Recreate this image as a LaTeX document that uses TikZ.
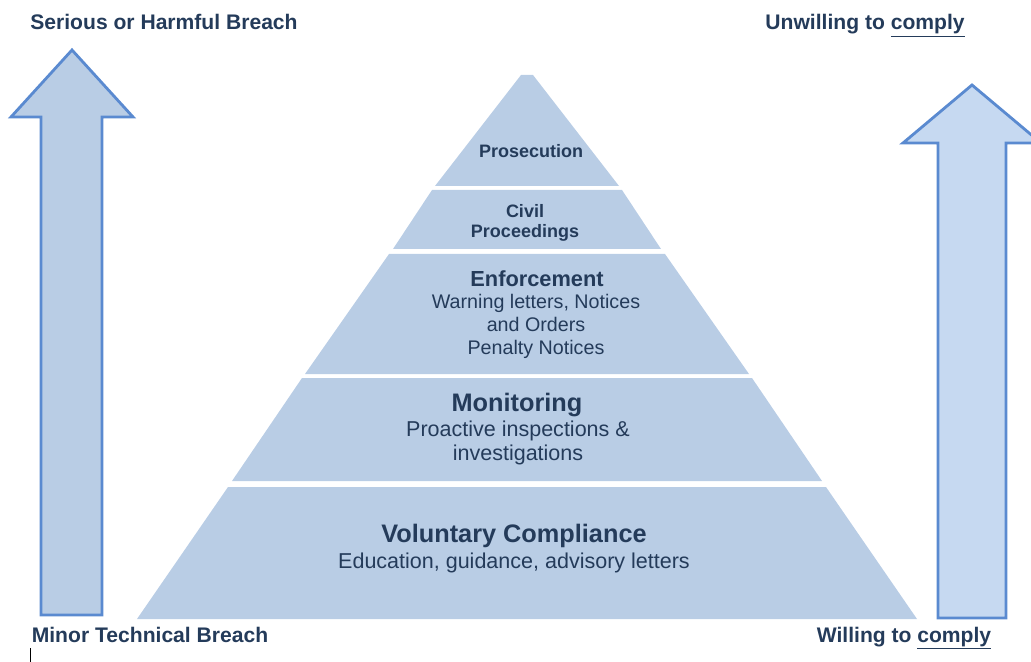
\documentclass[tikz,border=0pt]{standalone}
\usepackage{fontspec}
\setmainfont{Liberation Sans}
\usetikzlibrary{arrows.meta}

\definecolor{tinta}{HTML}{243B5A}
\definecolor{capa}{HTML}{B9CDE5}
\definecolor{borde}{HTML}{5A8AD0}
\definecolor{relleno}{HTML}{B9CDE5}
\definecolor{rellenoclaro}{HTML}{C6D9F1}

\begin{document}
\begin{tikzpicture}[x=0.025cm, y=-0.025cm, >=Stealth,
    every node/.style={text=tinta, inner sep=0pt, align=center},
    extremo/.style={font=\fontsize{15}{18}\selectfont\bfseries, anchor=base},
    titulo/.style={font=\fontsize{18}{22}\selectfont\bfseries},
    cuerpo/.style={font=\fontsize{15.3}{17}\selectfont},
    flecha/.style={draw=borde, line width=2pt}]
        % Marco del dibujo
        \useasboundingbox (0,0) rectangle (1031,662);

        % Flechas laterales
        \filldraw[flecha, fill=relleno] (72,50) -- (133,117) -- (102,117) -- (102,615)
            -- (41,615) -- (41,117) -- (11,117) -- cycle;
        \filldraw[flecha, fill=rellenoclaro] (972,85) -- (1041,143) -- (1006,143) -- (1006,618)
            -- (938,618) -- (938,143) -- (903,143) -- cycle;

        % Capas de la pirámide (y arriba / semiancho, y abajo / semiancho)
        \def\cx{527}
        \foreach \yt/\wt/\yb/\wb in {75/6/186/92, 190/95/249/134, 254/138/374/222,
                                    378/225/481/295, 487/299/619/390}
            \fill[capa] (\cx-\wt,\yt) -- (\cx+\wt,\yt) -- (\cx+\wb,\yb) -- (\cx-\wb,\yb) -- cycle;

        % Textos de las capas
        \node[font=\fontsize{12.8}{14.2}\selectfont\bfseries] (pros) at (531,151) {Prosecution};
        \node[font=\fontsize{12.8}{14.2}\selectfont\bfseries] (civil) at (525,223) {Civil\\Proceedings};
        \node[font=\fontsize{15.5}{18}\selectfont\bfseries] (enf) at (537,279) {Enforcement};
        \node[font=\fontsize{14}{16.3}\selectfont] (enfdet) at (536,326)
            {Warning letters, Notices\\and Orders\\Penalty Notices};
        \node[titulo] (mon) at (517,405) {Monitoring};
        \node[cuerpo] (mondet) at (518,443) {Proactive inspections \&\\investigations};
        \node[titulo] (vol) at (514,536) {Voluntary Compliance};
        \node[cuerpo] (voldet) at (514,563) {Education, guidance, advisory letters};

        % Rótulos de los extremos
        \node[extremo] (grave) at (164,30) {Serious or Harmful Breach};
        \node[extremo] (reacio) at (865,30) {Unwilling to \underline{comply}};
        \node[extremo] (leve) at (150,642) {Minor Technical Breach};
        \node[extremo] (dispuesto) at (904,642) {Willing to \underline{comply}};

        % Cursor de texto
        \draw[line width=0.6pt] (30,648) -- (30,662);
    \end{tikzpicture}
\end{document}
